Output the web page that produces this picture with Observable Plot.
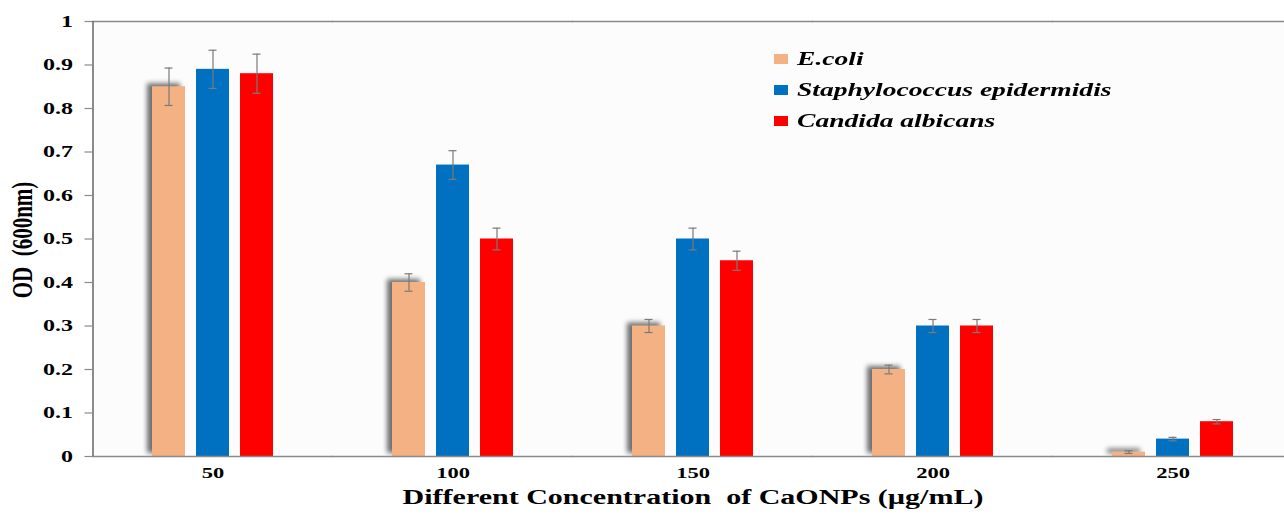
<!DOCTYPE html>
<html>
<head>
<meta charset="utf-8">
<script src="https://cdn.jsdelivr.net/npm/d3@7"></script>
<script src="https://cdn.jsdelivr.net/npm/@observablehq/plot@0.6"></script>
<style>
  html, body { margin: 0; padding: 0; background: #fff; }
  #wrap { position: relative; width: 1284px; height: 514px; overflow: hidden; }
  #wrap svg text { font-family: "Liberation Serif", "Times New Roman", serif; font-weight: bold; }
  #legend { position: absolute; left: 774px; top: 43px; font-family: "Liberation Serif", "Times New Roman", serif; font-weight: bold; font-style: italic; font-size: 19px; color: #000; }
  #legend .item { display: flex; align-items: center; height: 31px; white-space: nowrap; }
  #legend .sw { width: 14px; height: 10px; margin-right: 9px; flex: none; }
  #legend .lbl { display: inline-block; transform: scaleX(1.45); transform-origin: left center; }
  #ytitle { position: absolute; left: 23px; top: 240px; font-family: "Liberation Serif", "Times New Roman", serif; font-weight: bold; font-size: 21px; white-space: pre; color: #000; transform: translate(-50%, -50%) scaleX(1.45) rotate(-90deg); }
</style>
</head>
<body>
<div id="wrap"></div>
<script>
const concentrations = ["50", "100", "150", "200", "250"];
const species = ["E.coli", "Staphylococcus epidermidis", "Candida albicans"];
const speciesColors = ["#F4B183", "#0070C0", "#FF0000"];
const ecoliValues = [0.85, 0.40, 0.30, 0.20, 0.01];
const staphValues = [0.89, 0.67, 0.50, 0.30, 0.04];
const candidaValues = [0.88, 0.50, 0.45, 0.30, 0.08];
const ecoliErrors = [0.043, 0.020, 0.015, 0.010, 0.003];
const staphErrors = [0.044, 0.033, 0.025, 0.015, 0.004];
const candidaErrors = [0.045, 0.025, 0.022, 0.015, 0.005];
const yTicks = [0, 0.1, 0.2, 0.3, 0.4, 0.5, 0.6, 0.7, 0.8, 0.9, 1];
const yTitle = "OD  (600nm)";
const xTitle = "Different Concentration  of CaONPs (\u00b5g/mL)";

const seriesValues = [ecoliValues, staphValues, candidaValues];
const seriesErrors = [ecoliErrors, staphErrors, candidaErrors];
const data = [];
species.forEach((s, i) => concentrations.forEach((c, j) => {
  data.push({conc: c, species: s, value: seriesValues[i][j], err: seriesErrors[i][j]});
}));
const ecoliData = data.filter(d => d.species === species[0]);

const serif = "'Liberation Serif', 'Times New Roman', serif";
const axisGray = "#8a8a8a";
const errGray = "#7a7a7a";

const chart = Plot.plot({
  width: 1284,
  height: 514,
  marginLeft: 92,
  marginRight: -8,
  marginTop: 21,
  marginBottom: 58,
  style: {fontFamily: serif, fontWeight: "bold", background: "#fff", color: "#000"},
  fx: {domain: concentrations, paddingInner: 0.496, paddingOuter: 0.248, label: null},
  x: {domain: species, paddingInner: 0.25, paddingOuter: 0, axis: null},
  y: {domain: [0, 1], label: null},
  color: {domain: species, range: speciesColors},
  marks: [
    Plot.frame({fill: "#fcfcfc", stroke: null, insetLeft: -60, insetRight: -60}),
    Plot.barY(ecoliData, {fx: "conc", x: "species", y: "value", fill: "#6f6f6f", dx: -5, dy: -3, imageFilter: "blur(2.5px)"}),
    Plot.barY(data, {fx: "conc", x: "species", y: "value", fill: "species"}),
    Plot.ruleX(data, {fx: "conc", x: "species", y1: d => d.value - d.err, y2: d => d.value + d.err, stroke: errGray, strokeWidth: 1.2}),
    Plot.tickY(data, {fx: "conc", x: "species", y: d => d.value + d.err, stroke: errGray, strokeWidth: 1.2, insetLeft: 12.5, insetRight: 12.5}),
    Plot.tickY(data, {fx: "conc", x: "species", y: d => d.value - d.err, stroke: errGray, strokeWidth: 1.2, insetLeft: 12.5, insetRight: 12.5}),
    Plot.ruleY([0, 1], {stroke: axisGray, strokeWidth: 1.5, insetLeft: -60, insetRight: -60}),
    Plot.ruleX([concentrations[0]], {fx: d => d, x: () => species[0], y1: 0, y2: 1, dx: -76, stroke: "#666", strokeWidth: 1.5}),
    Plot.axisY({ticks: yTicks, tickSize: 8, tickPadding: 12, fontSize: 16, dx: -59.5, stroke: axisGray, strokeWidth: 1.2, tickFormat: d => String(+d.toFixed(1)), label: null}),
    Plot.axisFx({anchor: "bottom", tickSize: 0, tickPadding: 11, fontSize: 15, label: null}),
    Plot.text([xTitle], {frameAnchor: "bottom", dy: 47, fontSize: 20, facet: "super"})
  ]
});

const wrap = document.getElementById("wrap");
wrap.appendChild(chart);

// the reference image is stretched horizontally; stretch the glyphs the same way
d3.select(chart).selectAll("text").each(function() {
  const len = this.getComputedTextLength();
  if (len > 0) {
    this.setAttribute("textLength", len * 1.5);
    this.setAttribute("lengthAdjust", "spacingAndGlyphs");
  }
});

const yt = document.createElement("div");
yt.id = "ytitle";
yt.textContent = yTitle;
wrap.appendChild(yt);

const legend = document.createElement("div");
legend.id = "legend";
species.forEach((s, i) => {
  const item = document.createElement("div");
  item.className = "item";
  const sw = document.createElement("span");
  sw.className = "sw";
  sw.style.background = speciesColors[i];
  const label = document.createElement("span");
  label.className = "lbl";
  label.textContent = s;
  item.appendChild(sw);
  item.appendChild(label);
  legend.appendChild(item);
});
wrap.appendChild(legend);
</script>
</body>
</html>
